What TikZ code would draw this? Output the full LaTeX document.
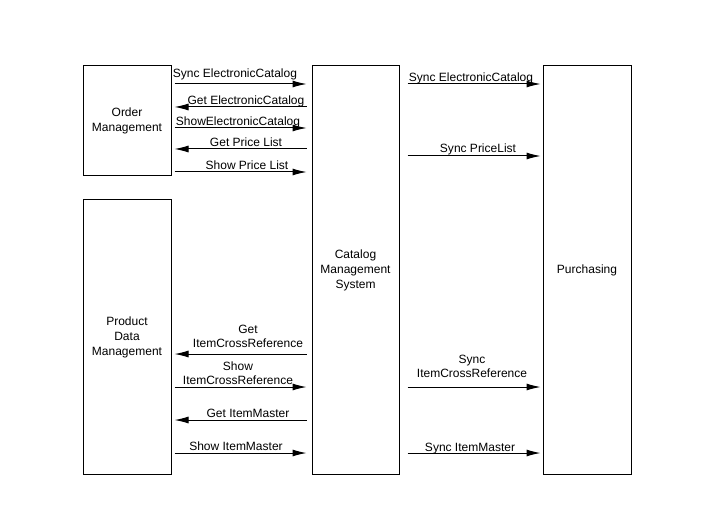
\documentclass[tikz,border=0pt]{standalone}
\usepackage{fontspec}
\setmainfont{Liberation Sans}
\usetikzlibrary{arrows.meta}
\begin{document}
\begin{tikzpicture}[x=1pt,y=-1pt,
  box/.style={draw,line width=1pt,inner sep=0pt,align=center,
    font=\fontsize{12}{15}\selectfont},
  arr/.style={line width=1pt,-{Latex[length=14pt,width=7pt]}},
  lbl/.style={anchor=base,inner sep=0pt,align=center,
    font=\fontsize{12}{14}\selectfont}]
\useasboundingbox[fill=white] (0,0) rectangle (708,529);
% boxes
\node[box,minimum width=88pt,minimum height=110pt] (OM) at (127,121) {Order\\Management};
\node[box,minimum width=88pt,minimum height=274pt] (PDM) at (127,337) {Product\\Data\\Management};
\node[box,minimum width=87pt,minimum height=408pt] (CMS) at (355.5,270) {Catalog\\Management\\System};
\node[box,minimum width=88pt,minimum height=408pt] (PUR) at (587,270) {Purchasing};
% arrow end columns
\coordinate (la) at ([xshift=3pt]OM.east);
\coordinate (lb) at ([xshift=-5pt]CMS.west);
\coordinate (ra) at ([xshift=8pt]CMS.east);
\coordinate (rb) at ([xshift=-2pt]PUR.west);
% left upper
\draw[arr] (la |- 0,84) -- (lb |- 0,84);
\node[lbl] at (235,78) {Sync ElectronicCatalog};
\draw[arr] (lb |- 0,107) -- (la |- 0,107);
\node[lbl] at (246,105) {Get ElectronicCatalog};
\draw[arr] (la |- 0,128) -- (lb |- 0,128);
\node[lbl] at (238,126) {ShowElectronicCatalog};
\draw[arr] (lb |- 0,149) -- (la |- 0,149);
\node[lbl] at (246,147) {Get Price List};
\draw[arr] (la |- 0,172) -- (lb |- 0,172);
\node[lbl] at (247,170) {Show Price List};
% left lower
\draw[arr] (lb |- 0,354) -- (la |- 0,354);
\node[lbl] at (248,347) {Get\\ItemCrossReference};
\draw[arr] (la |- 0,387) -- (lb |- 0,387);
\node[lbl] at (238,384) {Show\\ItemCrossReference};
\draw[arr] (lb |- 0,420) -- (la |- 0,420);
\node[lbl] at (248,417) {Get ItemMaster};
\draw[arr] (la |- 0,453) -- (lb |- 0,453);
\node[lbl] at (236,450) {Show ItemMaster};
% right
\draw[arr] (ra |- 0,84) -- (rb |- 0,84);
\node[lbl] at (471,82) {Sync ElectronicCatalog};
\draw[arr] (ra |- 0,156) -- (rb |- 0,156);
\node[lbl] at (478,153) {Sync PriceList};
\draw[arr] (ra |- 0,387) -- (rb |- 0,387);
\node[lbl] at (472,377) {Sync\\ItemCrossReference};
\draw[arr] (ra |- 0,453) -- (rb |- 0,453);
\node[lbl] at (470,451) {Sync ItemMaster};
\end{tikzpicture}
\end{document}
